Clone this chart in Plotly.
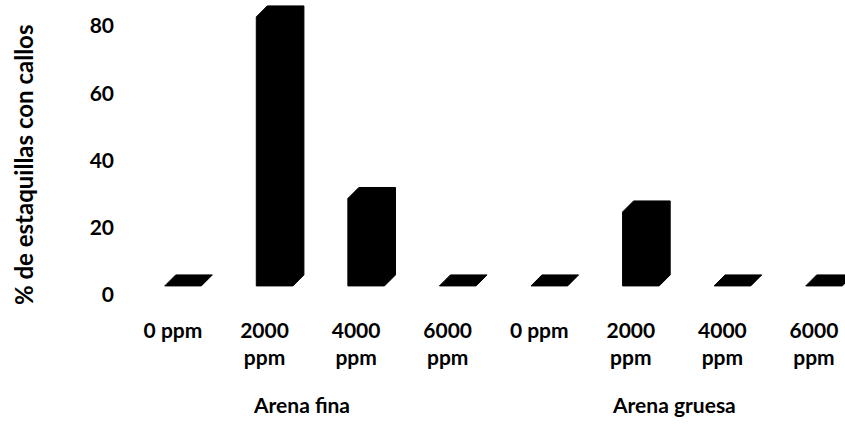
import plotly.graph_objects as go

# Data
groups = ["Arena fina", "Arena gruesa"]
doses = ["0 ppm", "2000<br>ppm", "4000<br>ppm", "6000<br>ppm"]
fina = [0, 80, 26, 0]
gruesa = [0, 22, 0, 0]
y_ticks = [0, 20, 40, 60, 80]

values = fina + gruesa
labels = doses + doses

# 3D-look geometry (in axis units)
floor = 2.7      # projected floor offset of the bar front
dx = 0.12        # depth offset, x
dy = 3.27        # depth offset, y
left, right = -0.09, 0.31

fig = go.Figure()
for i, v in enumerate(values):
    L, R = i + left, i + right
    xs = [L, L, L + dx, R + dx, R + dx, R, L]
    ys = [floor, floor + v, floor + v + dy, floor + v + dy, floor + dy, floor, floor]
    fig.add_trace(go.Scatter(x=xs, y=ys, mode="lines", fill="toself",
                             fillcolor="black", line=dict(color="black", width=1),
                             hoverinfo="skip", showlegend=False))

font = dict(family="Lato", size=21, color="black", weight="bold")
title_font = dict(family="Lato", size=24, color="black", weight="bold")

fig.update_layout(
    width=845, height=425,
    margin=dict(l=115, r=0, t=0, b=113),
    paper_bgcolor="white", plot_bgcolor="white",
    showlegend=False,
    font=font,
    xaxis=dict(range=[-0.633, 7.339], tickvals=list(range(len(values))),
               ticktext=labels, showgrid=False, zeroline=False, showline=False,
               ticks="", tickfont=font, fixedrange=True, ticklabelstandoff=4),
    yaxis=dict(range=[-5.06, 87.73], tickvals=y_ticks, showgrid=False,
               zeroline=False, showline=False, ticks="", tickfont=font,
               fixedrange=True),
)

fig.add_annotation(x=1.4, y=-0.298, xref="x", yref="paper", text=groups[0],
                   showarrow=False, font=font, xanchor="center", yanchor="middle")
fig.add_annotation(x=5.47, y=-0.298, xref="x", yref="paper", text=groups[1],
                   showarrow=False, font=font, xanchor="center", yanchor="middle")
fig.add_annotation(x=-0.126, y=0.471, xref="paper", yref="paper",
                   text="% de estaquillas con callos", textangle=-90,
                   showarrow=False, font=title_font, xanchor="center", yanchor="middle")

fig.write_html("out.html")
